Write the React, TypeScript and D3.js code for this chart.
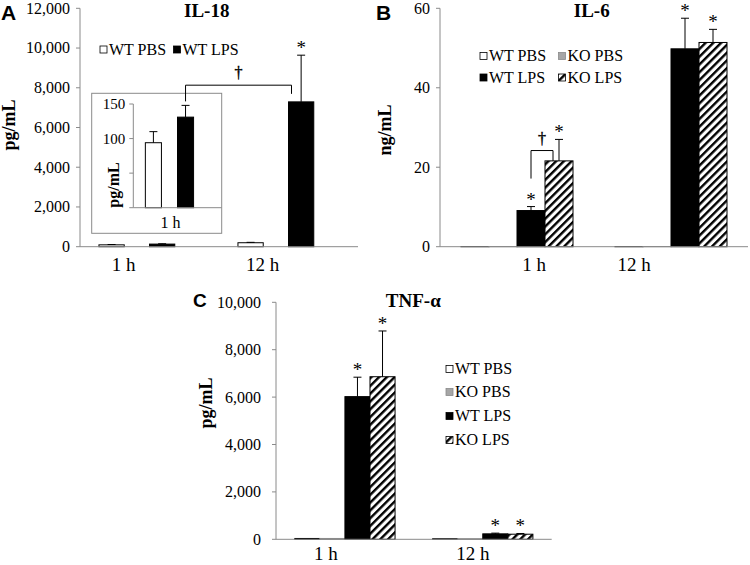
import React from "react";
import * as d3 from "d3";

// ---------- DATA ----------
const groups = ["1 h", "12 h"];
const seriesNames = ["WT PBS", "KO PBS", "WT LPS", "KO LPS"];

// Panel A: IL-18 (pg/mL)
const il18WtPbs = [94, 200];
const il18WtPbsErr = [16, 20];
const il18WtLps = [131, 7290];
const il18WtLpsErr = [17, 2350];
const il18Stars = [false, true]; // WT LPS
const il18Ticks = [0, 2000, 4000, 6000, 8000, 10000, 12000];
// inset (1 h only)
const insetGroups = ["1 h"];
const insetWtPbs = [94];
const insetWtPbsErr = [16];
const insetWtLps = [131];
const insetWtLpsErr = [17];
const insetTicks = [0, 50, 100, 150];
const insetTickLabels = ["", "", "100", "150"];

// Panel B: IL-6 (ng/mL)
const il6WtPbs = [0.05, 0.05];
const il6KoPbs = [0.05, 0.05];
const il6WtLps = [9.1, 49.8];
const il6WtLpsErr = [1.0, 7.7];
const il6KoLps = [21.6, 51.4];
const il6KoLpsErr = [5.4, 3.3];
const il6StarsWt = [true, true];
const il6StarsKo = [true, true];
const il6Ticks = [0, 20, 40, 60];

// Panel C: TNF-α (pg/mL)
const tnfWtPbs = [35, 25];
const tnfKoPbs = [35, 25];
const tnfWtLps = [6020, 230];
const tnfWtLpsErr = [820, 30];
const tnfKoLps = [6860, 215];
const tnfKoLpsErr = [1930, 30];
const tnfStarsWt = [true, true];
const tnfStarsKo = [true, true];
const tnfTicks = [0, 2000, 4000, 6000, 8000, 10000];

// ---------- STYLE ----------
const serif = "'Liberation Serif','Times New Roman',serif";
const sans = "'Liberation Sans',Arial,sans-serif";
const axisColor = "#8a8a8a";
const fills: Record<string, string> = {
  "WT PBS": "#ffffff",
  "KO PBS": "#a6a6a6",
  "WT LPS": "#000000",
  "KO LPS": "url(#hatch)",
};
const strokes: Record<string, string> = {
  "WT PBS": "#000",
  "KO PBS": "#8a8a8a",
  "WT LPS": "#000",
  "KO LPS": "#000",
};
const fmt = d3.format(",");

type Series = { name: string; values: number[]; errs?: number[]; stars?: boolean[] };

function slotX(x0: d3.ScaleBand<string>, g: string, slot: number, nSlots = 4, gapRatio = 1.5) {
  const bw = x0.bandwidth();
  const w = bw / (nSlots + gapRatio);
  return { x: (x0(g) as number) + (gapRatio / 2) * w + slot * w, w };
}

function BarsLayer({ x0, y, series, cats }: { x0: d3.ScaleBand<string>; y: d3.ScaleLinear<number, number>; series: Series[]; cats: string[] }) {
  const out: React.ReactNode[] = [];
  series.forEach((s) => {
    const slot = seriesNames.indexOf(s.name);
    cats.forEach((g, i) => {
      const { x, w } = slotX(x0, g, slot);
      const v = s.values[i];
      const top = y(v);
      const base = y(0);
      out.push(
        <rect key={`b-${s.name}-${g}`} x={x} y={top} width={w} height={Math.max(0, base - top)}
          fill={fills[s.name]} stroke={strokes[s.name]} strokeWidth={1} />
      );
      const e = s.errs ? s.errs[i] : 0;
      if (e > 0) {
        const cx = x + w / 2;
        const et = y(v + e);
        out.push(
          <g key={`e-${s.name}-${g}`} stroke="#000" strokeWidth={1}>
            <line x1={cx} x2={cx} y1={top} y2={et} />
            <line x1={cx - 4} x2={cx + 4} y1={et} y2={et} />
          </g>
        );
      }
      if (s.stars && s.stars[i]) {
        const et = y(v + (e || 0));
        out.push(
          <text key={`s-${s.name}-${g}`} x={x + w / 2} y={et - 1} textAnchor="middle"
            fontFamily={serif} fontSize={19} fill="#000">*</text>
        );
      }
    });
  });
  return <g>{out}</g>;
}

function YAxis({ x, y, ticks, labels, gap, fontSize, tickLen = 4 }: any) {
  const [r0, r1] = y.range();
  return (
    <g>
      <line x1={x} x2={x} y1={r0} y2={r1} stroke={axisColor} />
      {ticks.map((t: number, i: number) => (
        <g key={t}>
          <line x1={x - tickLen} x2={x} y1={y(t)} y2={y(t)} stroke={axisColor} />
          <text x={x - tickLen - gap} y={y(t)} dy="0.34em" textAnchor="end" fontFamily={serif} fontSize={fontSize}>
            {labels ? labels[i] : fmt(t)}
          </text>
        </g>
      ))}
    </g>
  );
}

function XAxis({ x0, y0, cats, offsets, baseline, fontSize }: any) {
  const [a, b] = x0.range();
  return (
    <g>
      <line x1={a} x2={b} y1={y0} y2={y0} stroke={axisColor} />
      {cats.map((g: string, i: number) => (
        <text key={g} x={(x0(g) as number) + x0.bandwidth() / 2 + offsets[i]} y={baseline}
          textAnchor="middle" fontFamily={serif} fontSize={fontSize}>{g}</text>
      ))}
    </g>
  );
}

function LegendItem({ name, x, y }: { name: string; x: number; y: number }) {
  return (
    <g>
      <rect x={x} y={y - 3.5} width={7} height={7} fill={fills[name]} stroke={strokes[name]} strokeWidth={0.8} />
      <text x={x + 9} y={y} dy="0.34em" fontFamily={serif} fontSize={16}>{name}</text>
    </g>
  );
}

function YLabel({ x, y, text, size }: any) {
  return (
    <text transform={`translate(${x},${y}) rotate(-90)`} textAnchor="middle" fontFamily={serif}
      fontWeight="bold" fontSize={size}>{text}</text>
  );
}

function Dagger({ x, y }: { x: number; y: number }) {
  return (
    <text x={x} y={y} textAnchor="middle" fontFamily={serif} fontSize={16} fill="#000"
      stroke="#000" strokeWidth={0.4}>†</text>
  );
}

export default function App() {
  // Panel A
  const xA = d3.scaleBand<string>().domain(groups).range([80, 358]);
  const yA = d3.scaleLinear().domain([0, 12000]).range([246.7, 8.3]);
  const seriesA: Series[] = [
    { name: "WT PBS", values: il18WtPbs, errs: il18WtPbsErr },
    { name: "WT LPS", values: il18WtLps, errs: il18WtLpsErr, stars: il18Stars },
  ];
  // inset
  const xI = d3.scaleBand<string>().domain(insetGroups).range([133.3, 221.7]);
  const yI = d3.scaleLinear().domain([0, 150]).range([207.7, 104]);
  const seriesI: Series[] = [
    { name: "WT PBS", values: insetWtPbs, errs: insetWtPbsErr },
    { name: "WT LPS", values: insetWtLps, errs: insetWtLpsErr },
  ];

  // Panel B
  const xB = d3.scaleBand<string>().domain(groups).range([440, 748]);
  const yB = d3.scaleLinear().domain([0, 60]).range([246.7, 8.3]);
  const seriesB: Series[] = [
    { name: "WT PBS", values: il6WtPbs },
    { name: "KO PBS", values: il6KoPbs },
    { name: "WT LPS", values: il6WtLps, errs: il6WtLpsErr, stars: il6StarsWt },
    { name: "KO LPS", values: il6KoLps, errs: il6KoLpsErr, stars: il6StarsKo },
  ];

  // Panel C
  const xC = d3.scaleBand<string>().domain(groups).range([276, 551.7]);
  const yC = d3.scaleLinear().domain([0, 10000]).range([539.3, 302.3]);
  const seriesC: Series[] = [
    { name: "WT PBS", values: tnfWtPbs },
    { name: "KO PBS", values: tnfKoPbs },
    { name: "WT LPS", values: tnfWtLps, errs: tnfWtLpsErr, stars: tnfStarsWt },
    { name: "KO LPS", values: tnfKoLps, errs: tnfKoLpsErr, stars: tnfStarsKo },
  ];

  // bracket A: from inset WT LPS (1 h) to main WT LPS (12 h)
  const inLps = slotX(xI, "1 h", 2);
  const aL = inLps.x + inLps.w / 2;
  const aLBottom = yI(insetWtLps[0] + insetWtLpsErr[0]) - 4;
  const mLps = slotX(xA, "12 h", 2);
  const aR = mLps.x + 3;
  const aRBottom = yA(il18WtLps[1]) - 8;
  const aTop = yA(8130);

  // bracket B: WT LPS 1h vs KO LPS 1h
  const bW = slotX(xB, "1 h", 2);
  const bK = slotX(xB, "1 h", 3);
  const bL = bW.x + bW.w / 2;
  const bR = bK.x + 8;
  const bTop = yB(24.2);
  const bLBottom = yB(il6WtLps[0] + il6WtLpsErr[0]) - 28;
  const bRBottom = yB(il6KoLps[0]);

  return (
    <svg width={750} height={565} style={{ position: "absolute", left: 0, top: 0, background: "#fff" }}>
      <defs>
        <pattern id="hatch" patternUnits="userSpaceOnUse" width={5.5} height={5.5} patternTransform="rotate(45)">
          <rect x={0} y={0} width={5.5} height={5.5} fill="#fff" />
          <rect x={0} y={0} width={2.4} height={5.5} fill="#000" />
        </pattern>
      </defs>

      {/* ===== Panel A ===== */}
      <text x={1} y={20} fontFamily={sans} fontWeight="bold" fontSize={21}>A</text>
      <text x={206.7} y={16.5} textAnchor="middle" fontFamily={serif} fontWeight="bold" fontSize={19}>IL-18</text>
      <YLabel x={15} y={125} text="pg/mL" size={18} />
      <BarsLayer x0={xA} y={yA} series={seriesA} cats={groups} />
      <YAxis x={80} y={yA} ticks={il18Ticks} gap={6} fontSize={16} />
      <XAxis x0={xA} y0={yA(0)} cats={groups} offsets={[-26, -26]} baseline={271} fontSize={19} />
      <LegendItem name="WT PBS" x={100} y={49.5} />
      <LegendItem name="WT LPS" x={173.5} y={49.5} />
      {/* inset */}
      <rect x={91.7} y={93.3} width={130} height={140} fill="#fff" stroke={axisColor} strokeWidth={1} />
      <BarsLayer x0={xI} y={yI} series={seriesI} cats={insetGroups} />
      <YAxis x={133.3} y={yI} ticks={insetTicks} labels={insetTickLabels} gap={4} fontSize={15} />
      <XAxis x0={xI} y0={yI(0)} cats={insetGroups} offsets={[-7]} baseline={227.7} fontSize={16} />
      <YLabel x={119} y={185} text="pg/mL" size={16} />
      {/* bracket A */}
      <path d={`M${aL},${aLBottom}V${aTop}H${aR}V${aRBottom}`} fill="none" stroke="#000" strokeWidth={1} />
      <Dagger x={(aL + aR) / 2} y={aTop - 7} />

      {/* ===== Panel B ===== */}
      <text x={376} y={20} fontFamily={sans} fontWeight="bold" fontSize={21}>B</text>
      <text x={591.7} y={16.5} textAnchor="middle" fontFamily={serif} fontWeight="bold" fontSize={19}>IL-6</text>
      <YLabel x={391} y={130} text="ng/mL" size={18} />
      <BarsLayer x0={xB} y={yB} series={seriesB} cats={groups} />
      <YAxis x={440} y={yB} ticks={il6Ticks} gap={6} fontSize={16} />
      <XAxis x0={xB} y0={yB(0)} cats={groups} offsets={[17, -37]} baseline={271} fontSize={19} />
      <LegendItem name="WT PBS" x={480} y={56} />
      <LegendItem name="KO PBS" x={558.5} y={56} />
      <LegendItem name="WT LPS" x={480} y={77.5} />
      <LegendItem name="KO LPS" x={558.5} y={77.5} />
      <path d={`M${bL},${bLBottom}V${bTop}H${bR}V${bRBottom}`} fill="none" stroke="#000" strokeWidth={1} />
      <Dagger x={(bL + bR) / 2} y={bTop - 7} />

      {/* ===== Panel C ===== */}
      <text x={193} y={307} fontFamily={sans} fontWeight="bold" fontSize={19}>C</text>
      <text x={413.3} y={306.5} textAnchor="middle" fontFamily={serif} fontWeight="bold" fontSize={19}>TNF-α</text>
      <YLabel x={212} y={403} text="pg/mL" size={18} />
      <BarsLayer x0={xC} y={yC} series={seriesC} cats={groups} />
      <YAxis x={276} y={yC} ticks={tnfTicks} gap={11} fontSize={16} />
      <XAxis x0={xC} y0={yC(0)} cats={groups} offsets={[-19, -10]} baseline={560} fontSize={19} />
      <LegendItem name="WT PBS" x={446} y={369} />
      <LegendItem name="KO PBS" x={446} y={392} />
      <LegendItem name="WT LPS" x={446} y={416} />
      <LegendItem name="KO LPS" x={446} y={440} />
    </svg>
  );
}
